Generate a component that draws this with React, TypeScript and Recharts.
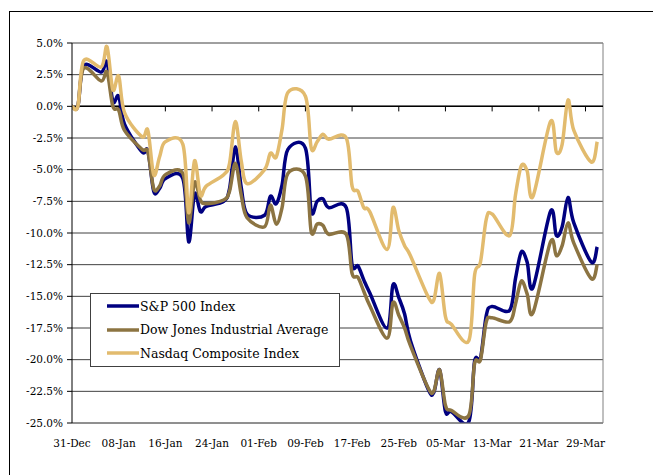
import { LineChart, Line, XAxis, YAxis, CartesianGrid, ReferenceLine, Legend } from 'recharts'

// trading days (holidays carried over), % change since 31-Dec-2008
const dates = [
  '2008-12-31', '2009-01-01', '2009-01-02',
  '2009-01-05', '2009-01-06', '2009-01-07', '2009-01-08', '2009-01-09',
  '2009-01-12', '2009-01-13', '2009-01-14', '2009-01-15', '2009-01-16',
  '2009-01-19', '2009-01-20', '2009-01-21', '2009-01-22', '2009-01-23',
  '2009-01-26', '2009-01-27', '2009-01-28', '2009-01-29', '2009-01-30',
  '2009-02-02', '2009-02-03', '2009-02-04', '2009-02-05', '2009-02-06',
  '2009-02-09', '2009-02-10', '2009-02-11', '2009-02-12', '2009-02-13',
  '2009-02-16', '2009-02-17', '2009-02-18', '2009-02-19', '2009-02-20',
  '2009-02-23', '2009-02-24', '2009-02-25', '2009-02-26', '2009-02-27',
  '2009-03-02', '2009-03-03', '2009-03-04', '2009-03-05', '2009-03-06',
  '2009-03-09', '2009-03-10', '2009-03-11', '2009-03-12', '2009-03-13',
  '2009-03-16', '2009-03-17', '2009-03-18', '2009-03-19', '2009-03-20',
  '2009-03-23', '2009-03-24', '2009-03-25', '2009-03-26', '2009-03-27',
  '2009-03-30', '2009-03-31',
]

const sp500 = [
  0, 0, 3.2,
  2.7, 3.5, 0.4, 0.8, -1.4,
  -3.6, -3.5, -6.7, -6.5, -5.7,
  -5.7, -10.7, -6.9, -8.3, -7.9,
  -7.5, -6.5, -3.2, -6.4, -8.5,
  -8.6, -7.1, -7.7, -6.2, -3.4,
  -3.3, -8.3, -7.5, -7.3, -8.0,
  -8.0, -12.5, -12.6, -13.7, -14.7,
  -17.5, -14.1, -15.1, -16.4, -18.5,
  -22.3, -22.6, -20.8, -24.1, -24.1,
  -24.9, -20.1, -19.9, -16.5, -15.8,
  -16.1, -13.6, -11.5, -12.3, -14.3,
  -8.3, -10.2, -9.5, -7.2, -9.2,
  -12.3, -11.1,
]

const dow = [
  0, 0, 3.0,
  2.0, 2.7, 0.0, -0.3, -1.9,
  -3.4, -3.6, -6.5, -6.3, -5.4,
  -5.3, -9.2, -6.0, -7.4, -7.7,
  -7.4, -6.7, -4.5, -7.0, -8.8,
  -9.5, -7.8, -9.3, -8.0, -5.3,
  -5.5, -9.9, -9.3, -9.4, -10.1,
  -10.1, -13.2, -13.5, -14.6, -15.7,
  -18.3, -15.5, -16.5, -17.5, -18.9,
  -22.2, -22.5, -20.8, -23.6, -24.0,
  -24.4, -20.3, -20.0, -17.0, -16.7,
  -17.0, -15.6, -13.8, -14.8, -16.3,
  -10.7, -11.8, -11.0, -9.2, -10.8,
  -13.6, -12.5,
]

const nasdaq = [
  0, 0, 3.6,
  3.1, 4.7, 1.3, 2.4, -0.5,
  -2.4, -1.9, -5.4, -4.0, -2.8,
  -3.0, -8.4, -4.3, -7.0, -6.3,
  -5.4, -4.5, -1.2, -4.3, -6.1,
  -5.0, -3.7, -4.0, -1.8, 1.1,
  0.8, -3.3, -2.8, -2.2, -2.6,
  -2.5, -6.3, -6.7, -8.0, -8.3,
  -11.3, -8.0, -9.8, -11.0, -11.8,
  -15.0, -15.3, -13.2, -16.6, -17.2,
  -18.5, -13.3, -12.3, -8.9, -8.5,
  -10.2, -7.0, -4.7, -5.1, -7.1,
  -1.2, -3.6, -3.0, 0.5, -1.9,
  -4.4, -2.8,
]

const seriesNames = ['S&P 500 Index', 'Dow Jones Industrial Average', 'Nasdaq Composite Index']

const tickDates = [
  '2008-12-31', '2009-01-08', '2009-01-16', '2009-01-24', '2009-02-01', '2009-02-09',
  '2009-02-17', '2009-02-25', '2009-03-05', '2009-03-13', '2009-03-21', '2009-03-29',
]
const yTicks = [5, 2.5, 0, -2.5, -5, -7.5, -10, -12.5, -15, -17.5, -20, -22.5, -25]

const MONTHS = ['Jan', 'Feb', 'Mar', 'Apr', 'May', 'Jun', 'Jul', 'Aug', 'Sep', 'Oct', 'Nov', 'Dec']
const DAY = 86400000
const base = Date.parse(dates[0])
const dayNo = (s: string) => Math.round((Date.parse(s) - base) / DAY)

const fmtDate = (d: number) => {
  const dt = new Date(base + d * DAY)
  return String(dt.getUTCDate()).padStart(2, '0') + '-' + MONTHS[dt.getUTCMonth()]
}

const data = dates.map((s, i) => ({ day: dayNo(s), sp: sp500[i], dow: dow[i], nasdaq: nasdaq[i] }))
const xTicks = tickDates.map(dayNo)

// Excel style "smoothed line": catmull-rom through every point
function smoothCurve(context: any) {
  let pts: number[][] = []
  return {
    areaStart() {},
    areaEnd() {},
    lineStart() {
      pts = []
    },
    point(x: number, y: number) {
      pts.push([+x, +y])
    },
    lineEnd() {
      if (!pts.length) return
      context.moveTo(pts[0][0], pts[0][1])
      for (let i = 0; i < pts.length - 1; i++) {
        const p0 = pts[Math.max(i - 1, 0)]
        const p1 = pts[i]
        const p2 = pts[i + 1]
        const p3 = pts[Math.min(i + 2, pts.length - 1)]
        context.bezierCurveTo(
          p1[0] + (p2[0] - p0[0]) / 6,
          p1[1] + (p2[1] - p0[1]) / 6,
          p2[0] - (p3[0] - p1[0]) / 6,
          p2[1] - (p3[1] - p1[1]) / 6,
          p2[0],
          p2[1],
        )
      }
    },
  }
}

const FONT = 'DejaVu Serif'
const tickStyle = { fill: '#000', fontSize: 10.5, fontFamily: FONT }

function LegendBox(props: any) {
  // keep the series order, recharts sorts the payload by name
  const items = [...(props.payload || [])].sort(
    (a: any, b: any) => seriesNames.indexOf(a.value) - seriesNames.indexOf(b.value),
  )
  return (
    <div
      style={{
        width: 250,
        height: 74,
        boxSizing: 'border-box',
        border: '1px solid #404040',
        background: '#fff',
        paddingTop: 0.5,
      }}
    >
      {items.map((p: any) => (
        <div key={p.value} style={{ display: 'flex', alignItems: 'center', height: 23.5 }}>
          <svg width={49} height={6} style={{ flex: 'none' }}>
            <line x1={16} y1={3} x2={48} y2={3} stroke={p.color} strokeWidth={3.5} />
          </svg>
          <span style={{ fontFamily: FONT, fontSize: 12.5, color: '#000', whiteSpace: 'nowrap' }}>{p.value}</span>
        </div>
      ))}
    </div>
  )
}

export default function App() {
  return (
    <div style={{ position: 'absolute', left: 0, top: 0, width: 653, height: 475, overflow: 'hidden', background: '#fff' }}>
      <div
        style={{
          position: 'absolute',
          left: 9,
          top: 11,
          width: 700,
          height: 500,
          borderLeft: '1px solid #000',
          borderTop: '1px solid #000',
        }}
      />
      <LineChart width={653} height={475} data={data} margin={{ top: 43, right: 50, bottom: 22, left: 0 }}>
        <CartesianGrid vertical={false} stroke="#404040" />
        <XAxis
          dataKey="day"
          type="number"
          domain={[0, 91]}
          ticks={xTicks}
          interval={0}
          tickFormatter={fmtDate}
          axisLine={{ stroke: '#808080' }}
          tickLine={false}
          tickSize={0}
          tickMargin={17}
          height={30}
          tick={tickStyle}
          allowDataOverflow
        />
        <YAxis
          domain={[-25, 5]}
          ticks={yTicks}
          interval={0}
          tickFormatter={(v: number) => v.toFixed(1) + '%'}
          axisLine={{ stroke: '#000' }}
          tickLine={{ stroke: '#000' }}
          tickSize={5}
          tickMargin={4}
          width={72}
          tick={tickStyle}
          allowDataOverflow
        />
        <ReferenceLine x={91} stroke="#808080" />
        <ReferenceLine y={0} stroke="#000" strokeWidth={1.5} />
        {xTicks.slice(1).map((d) => (
          <ReferenceLine key={d} segment={[{ x: d, y: 0 }, { x: d, y: -0.4 }]} stroke="#000" />
        ))}
        <Line
          type={smoothCurve as any}
          dataKey="sp"
          name={seriesNames[0]}
          stroke="#000080"
          strokeWidth={3.5}
          dot={false}
          isAnimationActive={false}
        />
        <Line
          type={smoothCurve as any}
          dataKey="dow"
          name={seriesNames[1]}
          stroke="#8c7442"
          strokeWidth={3.5}
          dot={false}
          isAnimationActive={false}
        />
        <Line
          type={smoothCurve as any}
          dataKey="nasdaq"
          name={seriesNames[2]}
          stroke="#e2bb6e"
          strokeWidth={3.5}
          dot={false}
          isAnimationActive={false}
        />
        <Legend
          layout="horizontal"
          verticalAlign="middle"
          content={LegendBox}
          wrapperStyle={{ left: 90, top: 293, width: 250, height: 74 }}
        />
      </LineChart>
    </div>
  )
}
